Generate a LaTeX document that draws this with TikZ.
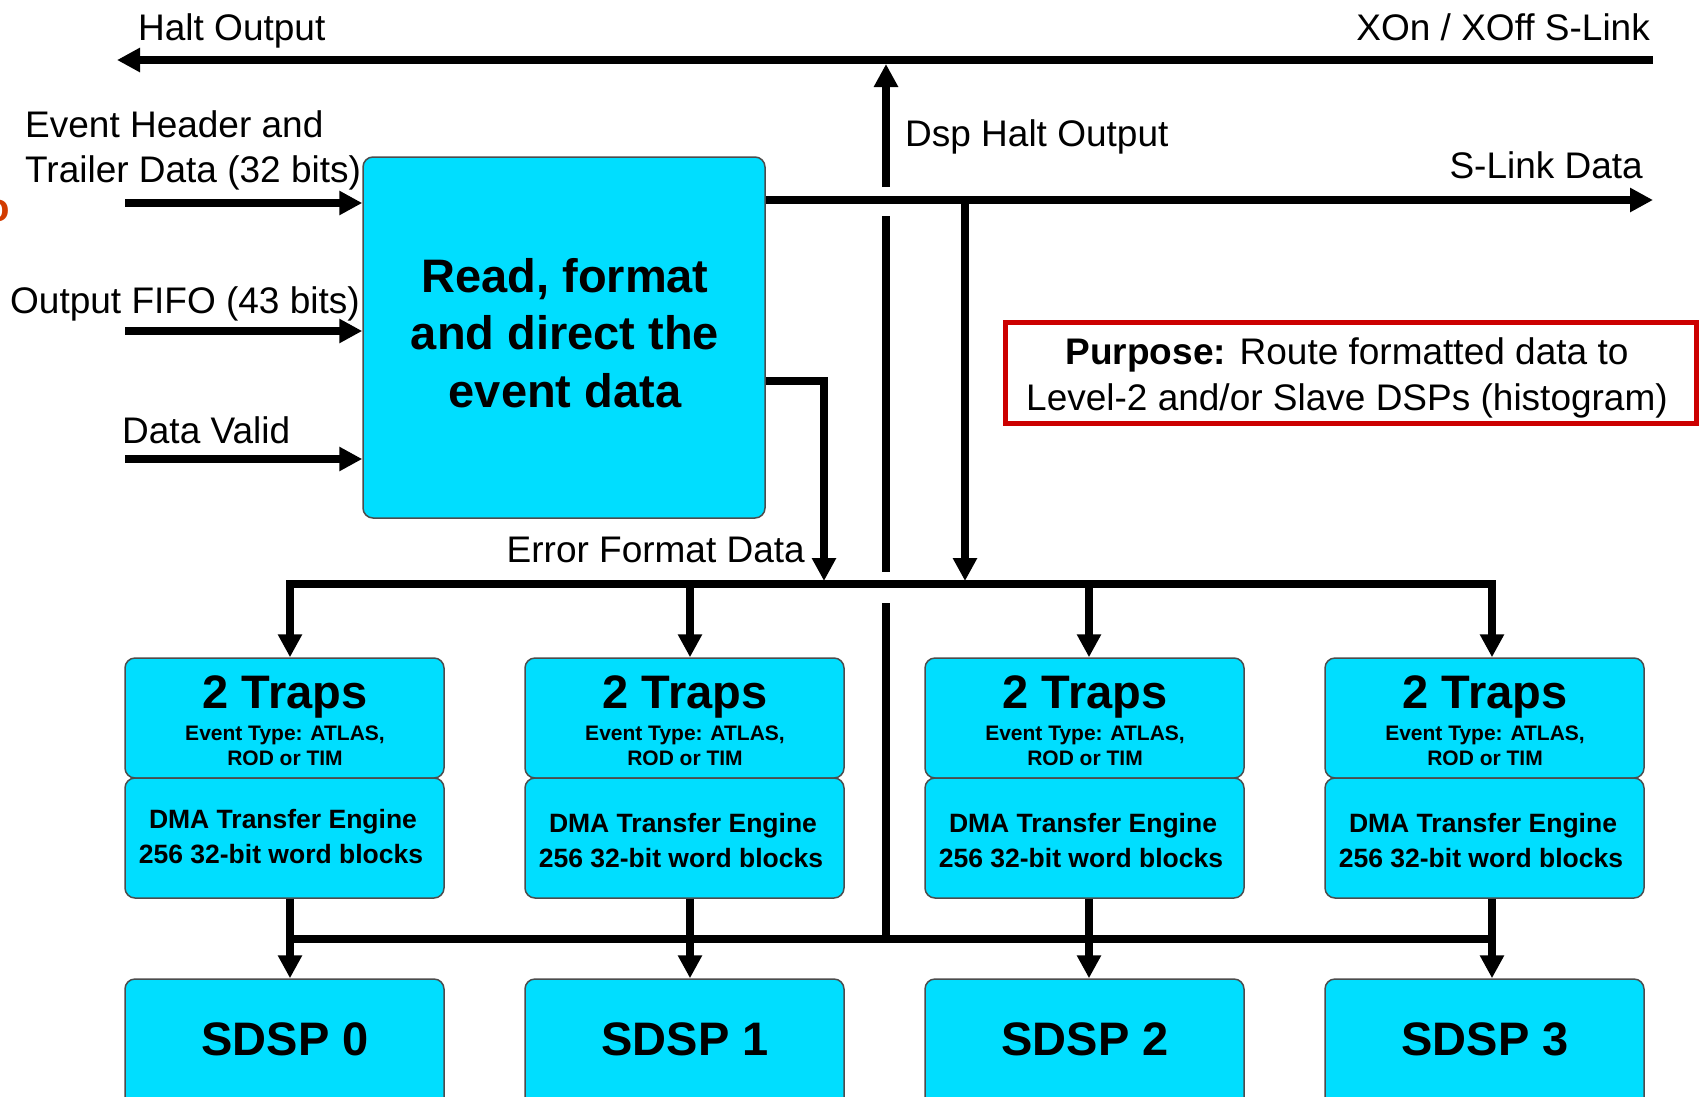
\documentclass[tikz,border=0pt]{standalone}
\usepackage{fontspec}
\setmainfont{Liberation Sans}
\usetikzlibrary{arrows.meta}
\definecolor{boxcyan}{RGB}{0,222,255}
\definecolor{purred}{RGB}{204,0,0}
\definecolor{slideorange}{RGB}{210,60,0}
\newcommand{\fsz}[2]{\fontsize{#1}{#2}\selectfont}
\begin{document}
\begin{tikzpicture}[x=1pt,y=-1pt,
  blk/.style={draw=black!70, line width=1.5pt, fill=boxcyan, rounded corners=10pt, inner sep=0pt},
  wire/.style={line width=7.6pt},
  arr/.style={wire, -{Triangle[length=23pt,width=23pt]}},
  lbl/.style={inner sep=0pt, font=\fsz{37}{46}},
  head/.style={inner sep=0pt, anchor=base, font=\fsz{47}{58}\bfseries},
  small/.style={inner sep=0pt, anchor=base, font=\fsz{21}{25}\bfseries},
  dma/.style={inner sep=0pt, anchor=base, font=\fsz{26.5}{32}\bfseries}
]
\useasboundingbox (0,0) rectangle (1700,1096);
\clip (0,0) rectangle (1700,1096);

% cut-off slide letter at the left edge
\node[anchor=base east, text=slideorange, font=\fsz{40}{48}\bfseries, inner sep=0pt] (cut) at (10,221) {o};

% main block
\node[blk, minimum width=402pt, minimum height=361pt] (rfd) at (564,337.5) {};
\node[head] (rfd1) at (565,292) {Read, format};
\node[head] (rfd2) at (565,349) {and direct the};
\node[head] (rfd3) at (565,407) {event data};

% top labels
\node[lbl, anchor=base west] (halt) at (138,40) {Halt Output};
\node[lbl, anchor=base east] (xon) at (1650,40) {XOn / XOff S-Link};
\node[lbl, anchor=base west] (dsph) at (905,146) {Dsp Halt Output};
\node[lbl, anchor=base east] (sld) at (1643,178) {S-Link Data};
\node[lbl, anchor=base west] (ev1) at (25,137) {Event Header and};
\node[lbl, anchor=base west] (ev2) at (25,182) {Trailer Data (32 bits)};
\node[lbl, anchor=base west] (fifo) at (10,313) {Output FIFO (43 bits)};
\node[lbl, anchor=base west] (dv) at (122,443) {Data Valid};
\node[lbl, anchor=base east] (efd) at (805,562) {Error Format Data};

% purpose box
\node[draw=purred, line width=5pt, minimum width=690.5pt, minimum height=100.5pt, inner sep=0pt] (purpose) at (1350.75,372.75) {};
\node[lbl, anchor=base] (pur1) at (1347,364) {\textbf{Purpose:} Route formatted data to};
\node[lbl, anchor=base] (pur2) at (1347,410) {Level-2 and/or Slave DSPs (histogram)};

% column blocks
\foreach \i/\xl/\xa/\dy in {0/125/290/0, 1/525/690/4, 2/925/1089/4, 3/1325/1492/4}{
  \node[blk, minimum width=319pt, minimum height=120pt] (trap\i) at (\xl+159.5,718) {};
  \node[blk, minimum width=319pt, minimum height=120pt] (dma\i) at (\xl+159.5,838) {};
  \node[blk, minimum width=319pt, minimum height=131pt] (sdsp\i) at (\xl+159.5,1044.5) {};
  \node[head] (trapt\i) at (\xl+160,708) {2 Traps};
  \node[small] (trapa\i) at (\xl+160,740) {Event Type: ATLAS,};
  \node[small] (trapb\i) at (\xl+160,765) {ROD or TIM};
  \node[dma] (dmaa\i) at (\xl+158,828+\dy) {DMA Transfer Engine};
  \node[dma] (dmab\i) at (\xl+156,863+\dy) {256 32-bit word blocks};
  \node[head] (sdspt\i) at (\xl+160,1055) {SDSP \i};
  \coordinate (bt\i) at (\xa,584);
  \coordinate (bb\i) at (\xa,939);
  \draw[arr] (bt\i) -- (bt\i |- trap\i.north);
  \draw[arr] (dma\i.south -| bt\i) -- (bt\i |- sdsp\i.north);
}

% buses
\draw[wire, line cap=rect] (bt0) -- (bt3);
\draw[wire, line cap=rect] (bb0) -- (bb3);

% top lines
\coordinate (tlR) at (1653,60);
\coordinate (tlL) at (117,60);
\draw[arr] (tlR) -- (tlL);
\coordinate (dspB) at (886,187);
\coordinate (dspT) at (886,64);
\draw[arr] (dspB) -- (dspT);
\coordinate (slR) at (1653,200);
\draw[arr] (rfd.east |- slR) -- (slR);
\coordinate (sj) at (965,200);
\coordinate (sjB) at (965,581);
\draw[arr] (sj) -- (sjB);
\coordinate (efY) at (0,381);
\coordinate (efB) at (824,581);
\draw[arr] (rfd.east |- efY) -| (efB);

% broken vertical halt line
\coordinate (m1) at (886,216);
\coordinate (m2) at (886,572);
\coordinate (m3) at (886,603);
\coordinate (m4) at (886,939);
\draw[wire] (m1) -- (m2);
\draw[wire] (m3) -- (m4);

% inputs
\coordinate (in1) at (125,203);
\coordinate (in2) at (125,331);
\coordinate (in3) at (125,459);
\draw[arr] (in1) -- (rfd.west |- in1);
\draw[arr] (in2) -- (rfd.west |- in2);
\draw[arr] (in3) -- (rfd.west |- in3);
\end{tikzpicture}
\end{document}
